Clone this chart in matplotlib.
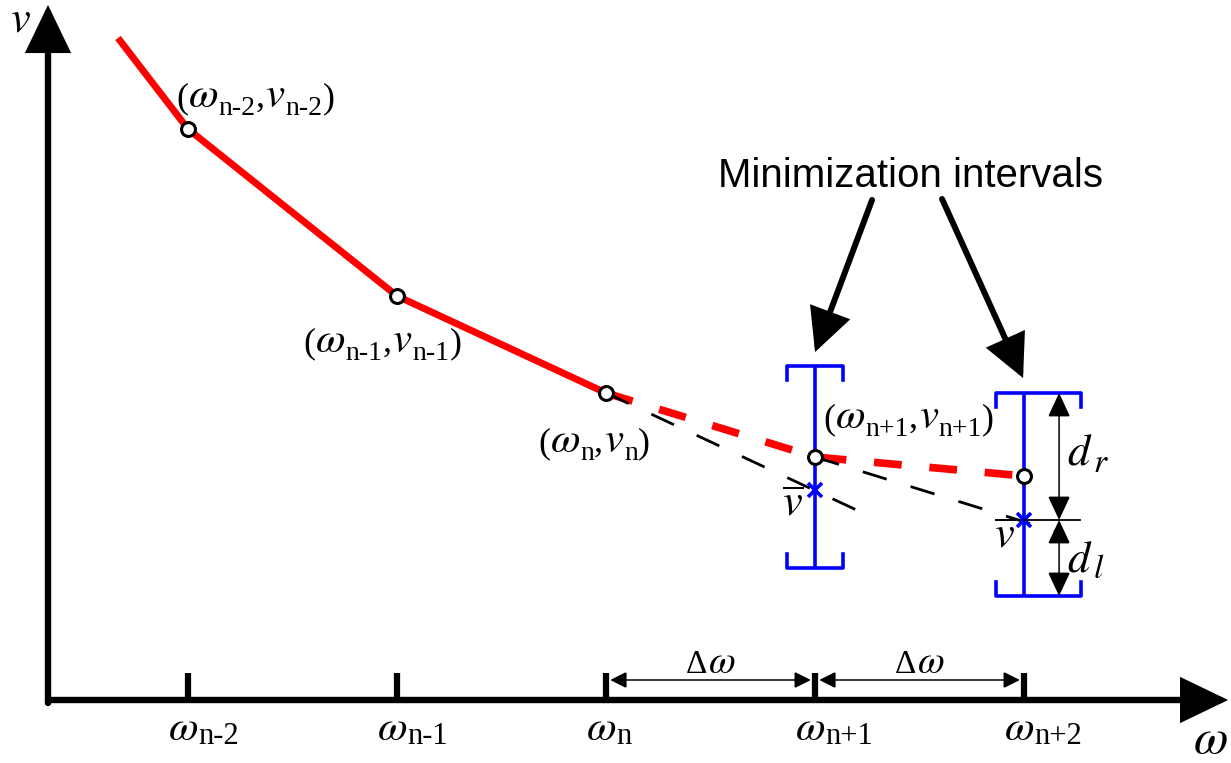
import matplotlib
matplotlib.use('Agg')
import matplotlib.pyplot as plt
from matplotlib.transforms import IdentityTransform

plt.rcParams['mathtext.fontset'] = 'stix'
plt.rcParams['lines.scale_dashes'] = False

SERIF = 'Liberation Serif'
SANS = 'Liberation Sans'
RED = '#ff0000'
BLUE = '#0000ff'
OM = r'$\omega$'
VV = r'$v$'

# frequency grid (step index) and speed samples
w = [1, 2, 3, 4, 5]
v = [5.71, 4.04, 3.07, 2.43, 2.24]
subs = ['n-2', 'n-1', 'n', 'n+1', 'n+2']
w_start, v_start = 0.665, 6.62          # where the red curve enters
v_bar = [2.10, 1.80]                    # linear predictions at n+1, n+2
ext_w = [4.26, 5.19]                    # end of the black prediction lines
ext_v = [1.84, 1.66]
lo = [1.32, 1.04]                       # minimization intervals
hi = [3.34, 3.07]

fig = plt.figure(figsize=(12.31, 7.63), dpi=100)
ax = fig.add_axes([0, 0, 1, 1])
ax.set_xlim(0.1005, 5.990)
ax.set_ylim(-0.63, 7.00)
ax.axis('off')

PX = 209.0   # pixels per omega step
PY = 100.0   # pixels per v unit


def rich(xd, yd, parts, dx=0, dy=0, center=False):
    # parts: (text, size, drop_px, kern_px); dx/dy in image pixels (dy down)
    r = fig.canvas.get_renderer()
    X, Y = ax.transData.transform((xd, yd))
    X += dx
    Y -= dy
    cur = X
    arts = []
    for s, size, drop, kern in parts:
        t = fig.text(cur, Y - drop, s, fontsize=size, family=SERIF,
                     va='baseline', ha='left', transform=IdentityTransform())
        cur += t.get_window_extent(r).width + kern
        arts.append(t)
    if center:
        tot = cur - X
        for t in arts:
            x0, y0 = t.get_position()
            t.set_position((x0 - tot / 2, y0))


def arrow(p0, p1, lw, style, ms=10, color='k', z=6):
    ax.annotate('', xy=p1, xytext=p0,
                arrowprops=dict(arrowstyle=style, lw=lw, color=color,
                                shrinkA=0, shrinkB=0, mutation_scale=ms,
                                joinstyle='miter'), zorder=z)


# axes with arrows
ox = 1 - 140 / PX
arrow((ox, -0.03), (ox, 6.95), 4.6, '-|>,head_length=2.7,head_width=1.3')
arrow((ox, 0), (1 + 1040 / PX, 0), 4.6, '-|>,head_length=2.7,head_width=1.3')
ax.vlines(w, 0, 0.27, color='k', lw=4.5, zorder=6)

# red curve, solid then predicted (dashed)
ax.plot([w_start] + w[:3], [v_start] + v[:3], color=RED, lw=5.0, zorder=2,
        solid_capstyle='butt', solid_joinstyle='round')
ax.plot(w[2:], v[2:], color=RED, lw=5.5, dashes=(20, 20), zorder=2,
        dash_capstyle='butt')

# black linear prediction lines
ax.plot([w[2], ext_w[0]], [v[2], ext_v[0]], color='k', lw=2.0, dashes=(18, 18), zorder=3)
ax.plot([w[3], ext_w[1]], [v[3], ext_v[1]], color='k', lw=2.0, dashes=(18, 18), zorder=3)

# minimization intervals
arm = 0.14
bl = [28 / PX, 28 / PX]
br = [28 / PX, 57 / PX]
for i, wc in enumerate(w[3:]):
    ax.vlines(wc, lo[i], hi[i], color=BLUE, lw=2.6, zorder=4)
    ax.plot([wc - bl[i], wc - bl[i], wc + br[i], wc + br[i]],
            [hi[i] - arm, hi[i], hi[i], hi[i] - arm], color=BLUE, lw=2.6, zorder=4)
    ax.plot([wc - bl[i], wc - bl[i], wc + br[i], wc + br[i]],
            [lo[i] + arm, lo[i], lo[i], lo[i] + arm], color=BLUE, lw=2.6, zorder=4)
ax.plot(w[3:], v_bar, ls='none', marker='x', ms=10, mew=2.6, color=BLUE, zorder=5)

# sample points
ax.plot(w, v, ls='none', marker='o', ms=10, mew=2.2, mfc='white', mec='k', zorder=7)

# d_r / d_l dimension arrows
xd = w[4] + 35 / PX
ax.plot([w[4], w[4] + 56 / PX], [v_bar[1], v_bar[1]], color='k', lw=1.3, zorder=6)
arrow((xd, v_bar[1]), (xd, hi[1]), 1.1, '<|-|>,head_length=1.5,head_width=0.7')
arrow((xd, v_bar[1]), (xd, lo[1]), 1.1, '<|-|>,head_length=1.5,head_width=0.7')

# delta omega arrows
for a, b in [(w[2], w[3]), (w[3], w[4])]:
    arrow((a + 0.02, 0.2), (b - 0.02, 0.2), 1.1, '<|-|>,head_length=1.0,head_width=0.5')
    rich((a + b) / 2, 0.2, [('Δ', 24, 0, 0), (OM, 28, 0, 0)], dy=-7, center=True)

# Minimization intervals label and arrows
ax.text(1 + 530 / PX, (700 - 187) / PY, 'Minimization intervals', family=SANS,
        fontsize=29, va='baseline', ha='left', zorder=8)
arrow((1 + 684 / PX, (700 - 200) / PY), (w[3], (700 - 352) / PY), 4.3,
      '-|>,head_length=2.4,head_width=1.2')
arrow((1 + 754 / PX, (700 - 199) / PY), (w[4] - 1 / PX, (700 - 378) / PY), 4.3,
      '-|>,head_length=2.4,head_width=1.2')

# point labels
M, G, S = 26, 31, 20
offs = [(-12, -22), (-94, 56), (-68, 59), (8, -29)]
for i, (dx, dy) in enumerate(offs):
    rich(w[i], v[i], [('(', M, 0, 0), (OM, G, 0, 0), (subs[i], S, 8, 0),
                      (',', M, 0, 1), (VV, G, 0, 0), (subs[i], S, 8, 0),
                      (')', M, 0, 0)], dx=dx, dy=dy)

# tick labels
for i in range(5):
    rich(w[i], 0, [(OM, 31, 0, 0), (subs[i], 22, 4, 0)], dx=-20, dy=40)

# v-bar labels
rich(w[3], v_bar[0], [(r'$\overline{v}$', 32, 0, 0)], dx=-33, dy=26)
rich(w[4], v_bar[1], [(r'$\overline{v}$', 32, 0, 0)], dx=-30, dy=28)

# d_r, d_l
rich(xd, (hi[1] + v_bar[1]) / 2, [(r'$d$', 32, 0, 0), (r'$r$', 24, 7, 0)],
     dx=8, dy=8)
rich(xd, (lo[1] + v_bar[1]) / 2, [(r'$d$', 32, 0, 0), (r'$l$', 24, 7, 0)],
     dx=8, dy=13)

# axis labels
rich(ox, 6.95, [(VV, 32, 0, 0)], dx=-38, dy=27)
rich(1 + 1040 / PX, 0, [(OM, 36, 0, 0)], dx=-35, dy=53)

fig.savefig('out.png', dpi=100)
